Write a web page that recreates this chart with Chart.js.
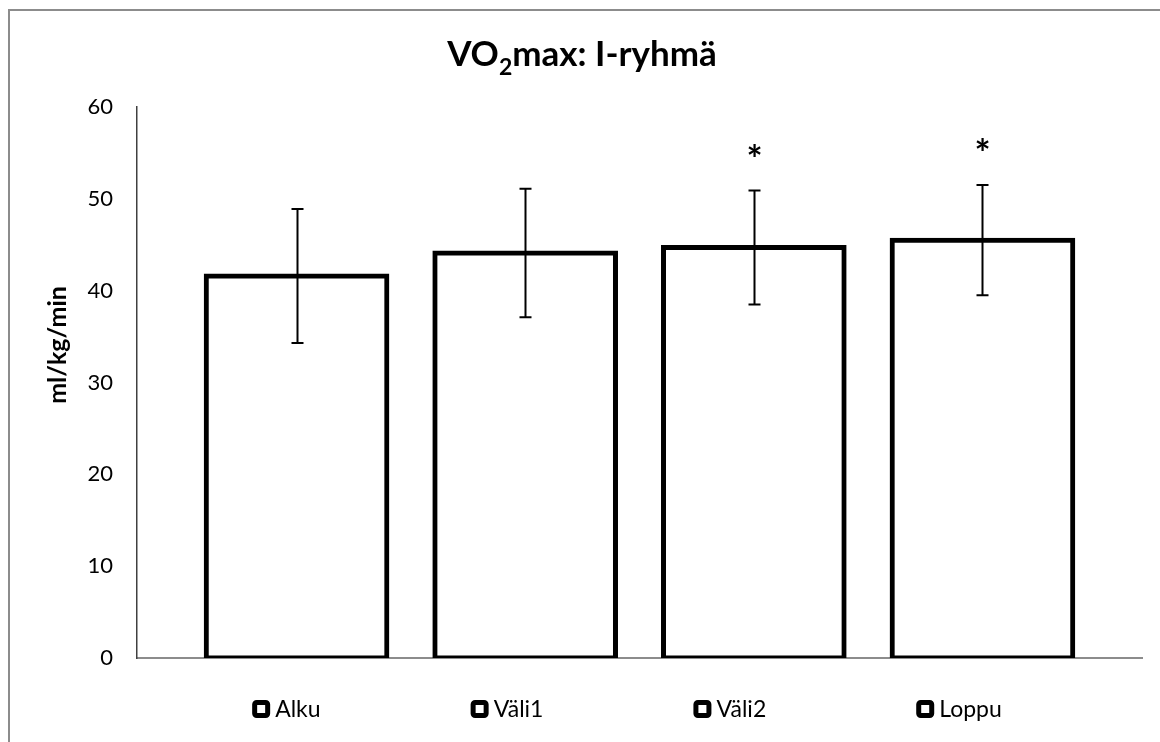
<!DOCTYPE html>
<html>
<head>
<meta charset="utf-8">
<script src="https://cdn.jsdelivr.net/npm/chart.js@4"></script>
<style>
  html, body { margin: 0; padding: 0; background: #fff; }
  #wrap { width: 1160px; height: 742px; position: relative; }
</style>
</head>
<body>
<div id="wrap"><canvas id="chart" width="1160" height="742"></canvas></div>
<script>
// data
var series = ['Alku', 'Väli1', 'Väli2', 'Loppu'];
var means = [41.6, 44.1, 44.7, 45.5];
var sds = [7.3, 7.0, 6.2, 6.0];
var marks = ['', '', '*', '*'];
var yMin = 0, yMax = 60, yStep = 10;

var font = "Lato, 'Open Sans', sans-serif";

// error bars, significance stars, title, axis title, legend and frame
var extras = {
    id: 'extras',
    beforeDraw: function (chart) {
        var ctx = chart.ctx;
        ctx.save();
        ctx.strokeStyle = '#8c8c8c';
        ctx.lineWidth = 2;
        ctx.beginPath();
        ctx.moveTo(9, 742);
        ctx.lineTo(9, 10);
        ctx.lineTo(1160, 10);
        ctx.stroke();
        ctx.restore();
    },
    afterDatasetsDraw: function (chart) {
        var ctx = chart.ctx;
        var y = chart.scales.y;
        ctx.save();
        ctx.strokeStyle = '#000';
        ctx.lineWidth = 2;
        chart.data.datasets.forEach(function (ds, i) {
            var bar = chart.getDatasetMeta(i).data[0];
            var x = Math.round(bar.x) + 0.5;
            var top = y.getPixelForValue(means[i] + sds[i]);
            var bot = y.getPixelForValue(means[i] - sds[i]);
            ctx.beginPath();
            ctx.moveTo(x, top); ctx.lineTo(x, bot);
            ctx.moveTo(x - 6, top); ctx.lineTo(x + 6, top);
            ctx.moveTo(x - 6, bot); ctx.lineTo(x + 6, bot);
            ctx.stroke();
            if (marks[i]) {
                ctx.fillStyle = '#000';
                ctx.font = "bold 38px " + font;
                ctx.textAlign = 'center';
                ctx.textBaseline = 'middle';
                ctx.fillText(marks[i], x, top - 30);
            }
        });
        ctx.restore();
    },
    afterDraw: function (chart) {
        var ctx = chart.ctx;
        ctx.save();
        ctx.fillStyle = '#000';
        // title with subscript
        var big = "bold 35px " + font, small = "bold 23px " + font;
        var parts = [['VO', big, 0], ['2', small, 9], ['max: I-ryhmä', big, 0]];
        var w = 0;
        parts.forEach(function (p) { ctx.font = p[1]; w += ctx.measureText(p[0]).width; });
        var tx = 582 - w / 2;
        ctx.textBaseline = 'alphabetic';
        ctx.textAlign = 'left';
        parts.forEach(function (p) {
            ctx.font = p[1];
            ctx.fillText(p[0], tx, 66 + p[2]);
            tx += ctx.measureText(p[0]).width;
        });
        // y axis title
        ctx.save();
        ctx.translate(58, 345);
        ctx.rotate(-Math.PI / 2);
        ctx.font = "bold 25px " + font;
        ctx.textAlign = 'center';
        ctx.textBaseline = 'middle';
        ctx.fillText('ml/kg/min', 0, 0);
        ctx.restore();
        // legend
        ctx.font = "23px " + font;
        var box = 18, gapText = 5, gapItem = 150;
        var widths = series.map(function (s) { return box + gapText + ctx.measureText(s).width; });
        var total = widths.reduce(function (a, b) { return a + b; }, 0) + gapItem * (series.length - 1);
        var lx = 627 - total / 2, ly = 709;
        series.forEach(function (s, i) {
            ctx.fillStyle = '#fff';
            ctx.strokeStyle = '#000';
            ctx.lineWidth = 5;
            ctx.beginPath();
            ctx.roundRect(lx + 2.5, ly - box / 2 + 2.5, box - 5, box - 5, 2);
            ctx.fill();
            ctx.stroke();
            ctx.fillStyle = '#000';
            ctx.textBaseline = 'middle';
            ctx.textAlign = 'left';
            ctx.fillText(s, lx + box + gapText, ly + 1);
            lx += widths[i] + gapItem;
        });
        ctx.restore();
    }
};

new Chart(document.getElementById('chart'), {
    type: 'bar',
    data: {
        labels: [''],
        datasets: series.map(function (s, i) {
            return {
                label: s,
                data: [means[i]],
                backgroundColor: '#fff',
                borderColor: '#000',
                borderWidth: 5,
                borderSkipped: false,
                inflateAmount: 2.5,
                categoryPercentage: 0.91,
                barPercentage: 0.79
            };
        })
    },
    options: {
        responsive: false,
        animation: false,
        layout: { padding: { top: 107, right: 18, bottom: 76, left: 0 } },
        plugins: {
            legend: { display: false },
            title: { display: false },
            tooltip: { enabled: false }
        },
        scales: {
            x: {
                grid: { display: false },
                ticks: { display: false },
                border: { color: '#8c8c8c', width: 2 }
            },
            y: {
                min: yMin,
                max: yMax,
                ticks: { stepSize: yStep, color: '#000', padding: 16, font: { family: font, size: 22 } },
                grid: { display: false },
                border: { color: '#404040', width: 1.5 },
                afterFit: function (scale) { scale.width = 137; }
            }
        }
    },
    plugins: [extras]
});
</script>
</body>
</html>
